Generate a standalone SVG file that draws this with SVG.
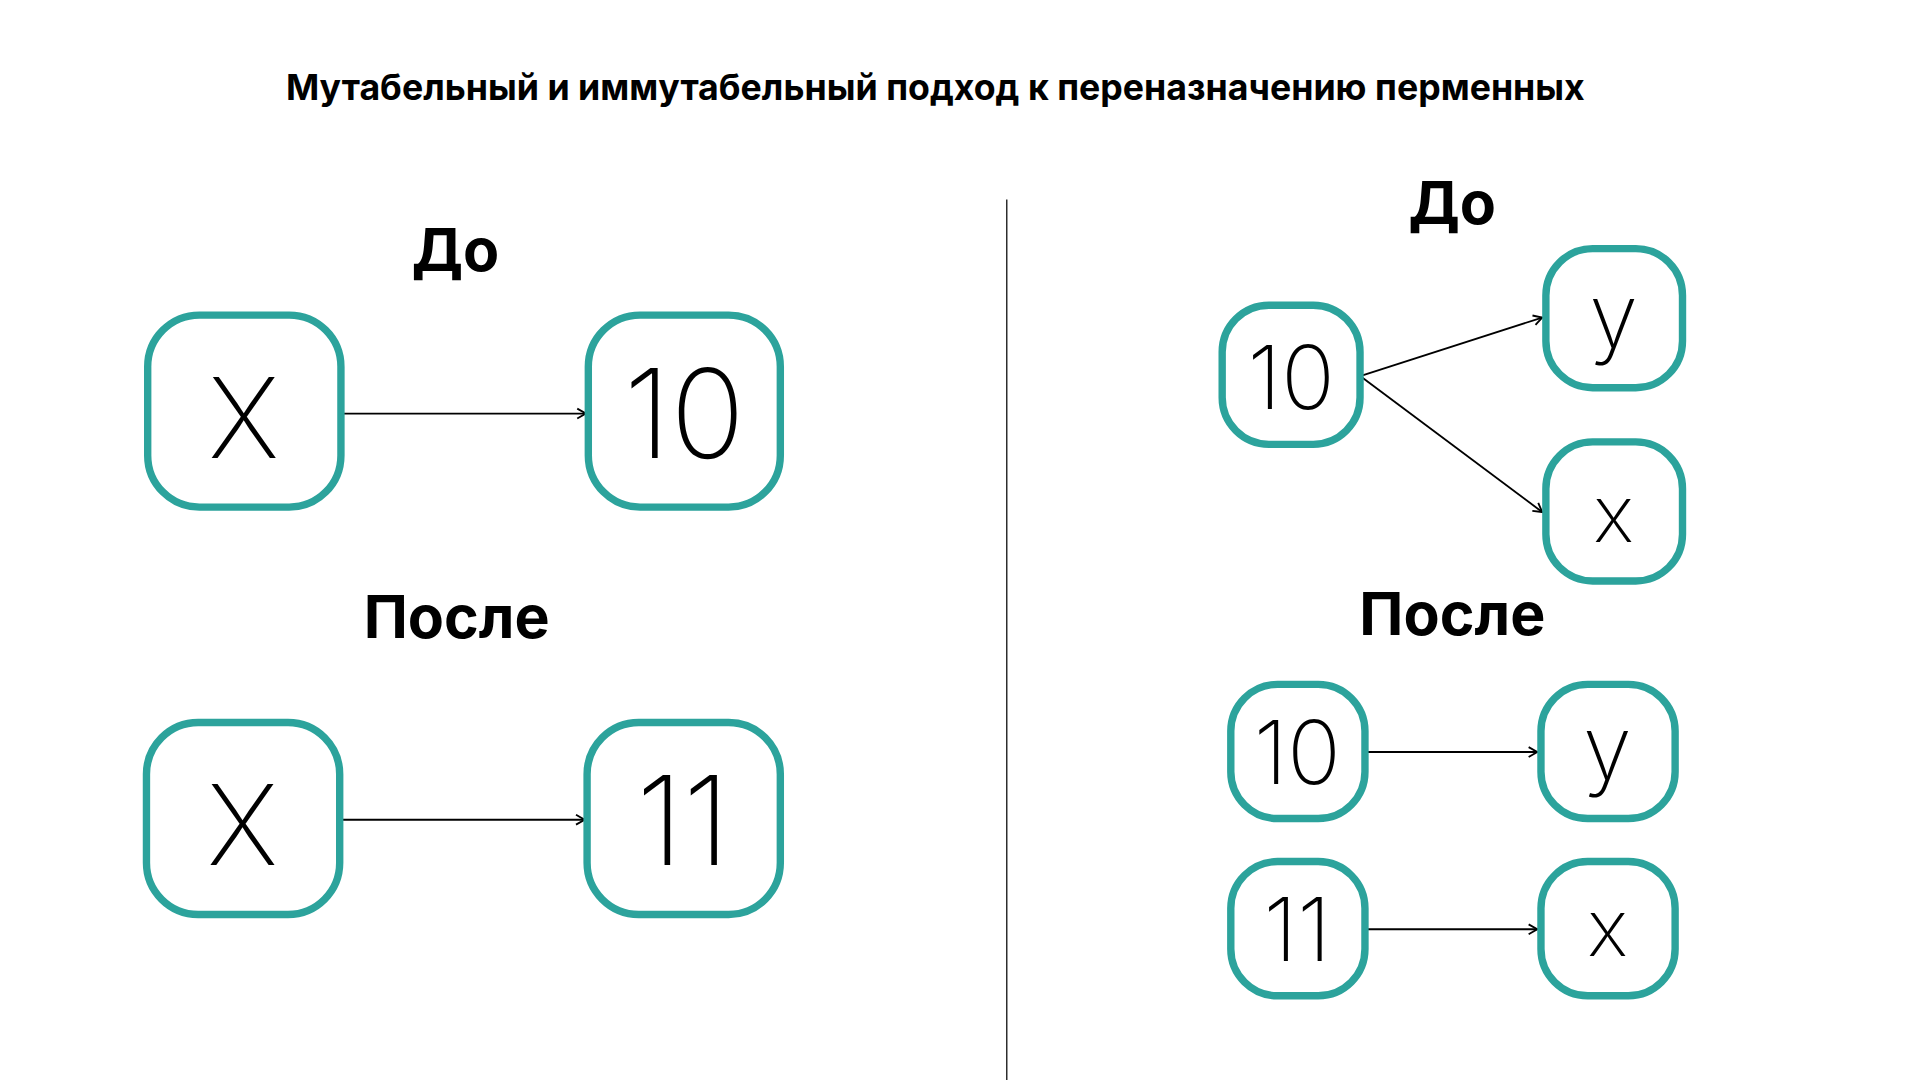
<svg xmlns="http://www.w3.org/2000/svg" width="1920" height="1080" viewBox="0 0 1920 1080">
<style>
.n rect{fill:#fff;stroke:#2ca39c;stroke-width:6}
.n text{font-family:Inter,"Open Sans",sans-serif;font-weight:200;text-anchor:middle;fill:#000}
.h{font-family:Inter,"Liberation Sans",sans-serif;font-weight:700;text-anchor:middle;fill:#000}
.c line{stroke:#000;stroke-width:1.5;marker-end:url(#a)}
</style>
<defs><marker id="a" markerWidth="10" markerHeight="10" refX="8" refY="5" orient="auto" markerUnits="userSpaceOnUse"><path d="M1,1 L8,5 L1,9" fill="none" stroke="#000" stroke-width="1.5"/></marker></defs>
<rect width="1920" height="1080" fill="#fff"/>
<g transform="scale(1.2308)">
<text class="h" x="760" y="81" font-size="29">Мутабельный и иммутабельный подход к переназначению перменных</text>
<text class="h" x="370" y="220" font-size="48">До</text>
<text class="h" x="371" y="518" font-size="48">После</text>
<text class="h" x="1180" y="182" font-size="48">До</text>
<text class="h" x="1180" y="516" font-size="48">После</text>
<line x1="818" y1="162" x2="818" y2="880" stroke="#000" stroke-width="1"/>
<g class="c">
<line x1="278" y1="336" x2="476" y2="336"/>
<line x1="277" y1="666" x2="475" y2="666"/>
<line x1="1107" y1="305" x2="1253" y2="258"/>
<line x1="1107" y1="307" x2="1253" y2="416"/>
<line x1="1111" y1="611" x2="1249" y2="611"/>
<line x1="1111" y1="755" x2="1249" y2="755"/>
</g>
<g id="lx1" class="n"><rect x="120" y="256" width="157" height="156" rx="42"/><text x="198" y="372" font-size="90">X</text></g>
<g id="l10" class="n"><rect x="478" y="256" width="156" height="156" rx="42"/><text x="556" y="372" font-size="100">10</text></g>
<g id="lx2" class="n"><rect x="119" y="587" width="157" height="156" rx="42"/><text x="197" y="703" font-size="90">X</text></g>
<g id="l11" class="n"><rect x="477" y="587" width="157" height="156" rx="42"/><text x="555" y="703" font-size="100">11</text></g>
<g id="r10" class="n"><rect x="993" y="248" width="112" height="113" rx="38"/><text x="1049" y="332" font-size="72">10</text></g>
<g id="ry" class="n"><rect x="1256" y="202" width="111" height="113" rx="38"/><text x="1311" y="282" font-size="72">y</text></g>
<g id="rx" class="n"><rect x="1256" y="359" width="111" height="113" rx="38"/><text x="1311" y="440" font-size="64">x</text></g>
<g id="r10b" class="n"><rect x="1000" y="556" width="109" height="109" rx="38"/><text x="1054" y="637" font-size="72">10</text></g>
<g id="ryb" class="n"><rect x="1252" y="556" width="109" height="109" rx="38"/><text x="1306" y="633" font-size="72">y</text></g>
<g id="r11" class="n"><rect x="1000" y="700" width="109" height="109" rx="38"/><text x="1054" y="781" font-size="72">11</text></g>
<g id="rxb" class="n"><rect x="1252" y="700" width="109" height="109" rx="38"/><text x="1306" y="777" font-size="64">x</text></g>
</g>
</svg>
